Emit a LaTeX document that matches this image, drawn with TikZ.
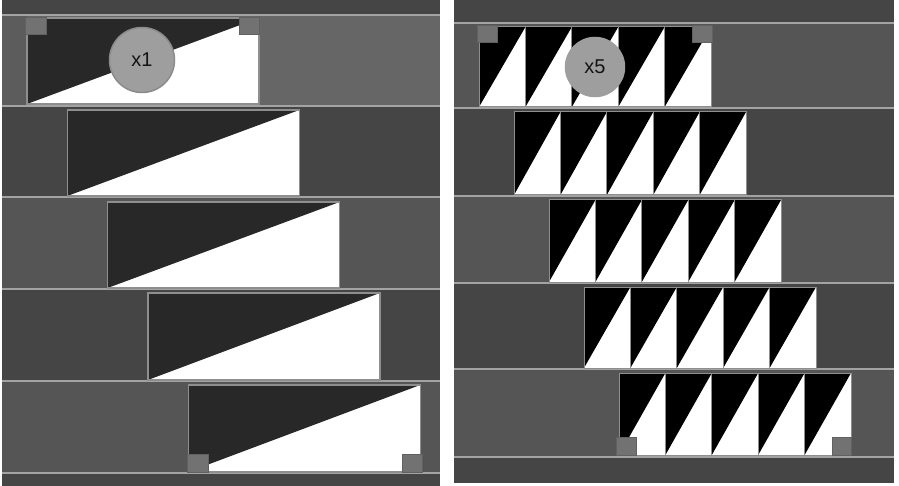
\documentclass[tikz,border=0pt]{standalone}
\usepackage{fontspec}
\setmainfont{Liberation Sans}

\definecolor{stripdark}{HTML}{454545}
\definecolor{rowlight}{HTML}{555555}
\definecolor{rowtop}{HTML}{666666}
\definecolor{rowtopleft}{HTML}{5C5C5C}
\definecolor{sepline}{HTML}{A3A3A3}
\definecolor{imgdark}{HTML}{282828}
\definecolor{handle}{HTML}{727272}
\definecolor{badgegray}{HTML}{9E9E9E}
\definecolor{frameline}{HTML}{8E8E8E}

\begin{document}
\begin{tikzpicture}[x=1pt, y=-1pt,
  sep/.style={sepline, line width=1.6pt},
  frame/.style={frameline, line width=1.2pt},
  handlebox/.style={fill=handle, draw=handle!85!black, line width=0.8pt},
  countbadge/.style={circle, fill=badgegray, draw=badgegray!88!black, line width=1.5pt,
    inner sep=0pt, text=black!92, font=\fontsize{20}{22}\selectfont}]

\useasboundingbox (0,0) rectangle (899,486);

% Left panel - one stretched copy per row
\fill[stripdark] (2,0) rectangle (440,486);
\fill[rowtopleft] (2,15) rectangle (27,106);
\fill[rowtop] (27,15) rectangle (440,106);
\foreach \top/\bot in {197/289, 381/473}
  \fill[rowlight] (2,\top) rectangle (440,\bot);
\foreach \y in {15,106,197,289,381,473}
  \draw[sep] (2,\y) -- (440,\y);

\foreach \i/\top/\bot in {0/18/104, 1/110/196, 2/202/288, 3/293/380, 4/385/472} {
  \pgfmathsetmacro{\xa}{27+40.3*\i}
  \pgfmathsetmacro{\xb}{\xa+232}
  \fill[white] (\xa,\top) rectangle (\xb,\bot);
  \fill[imgdark] (\xa,\bot) -- (\xa,\top) -- (\xb,\top) -- cycle;
  \draw[frame] (\xa,\top) rectangle (\xb,\bot);
}

% Left panel - handles
\draw[handlebox] (25,17) rectangle (46,34);
\draw[handlebox] (239,17) rectangle (259,34);
\draw[handlebox] (187,454) rectangle (208,472);
\draw[handlebox] (402,454) rectangle (422,472);

\node[countbadge, minimum size=65pt] (countone) at (142,60) {x1};

% Right panel - five tiles per row
\fill[stripdark] (454,0) rectangle (894,483);
\foreach \top/\bot in {23/108, 196/283, 369/457}
  \fill[rowlight] (454,\top) rectangle (894,\bot);
\foreach \y in {23,108,196,283,369,457}
  \draw[sep] (454,\y) -- (894,\y);

\foreach \i/\top/\bot in {0/27/107, 1/112/195, 2/200/282, 3/287/368, 4/373/455} {
  \foreach \c in {0,...,4} {
    \pgfmathsetmacro{\xa}{479+35*\i+46.4*\c}
    \pgfmathsetmacro{\xb}{\xa+46.4}
    \fill[white] (\xa,\top) rectangle (\xb,\bot);
    \fill[black] (\xa,\bot) -- (\xa,\top) -- (\xb,\top) -- cycle;
    \draw[frame, line width=1pt] (\xa,\top) rectangle (\xb,\bot);
  }
}

% Right panel - handles
\draw[handlebox] (477,25) rectangle (497,42);
\draw[handlebox] (692,25) rectangle (712,42);
\draw[handlebox] (616,437) rectangle (636,455);
\draw[handlebox] (832,437) rectangle (851,455);

\node[countbadge, minimum size=59pt, draw=badgegray] (countfive) at (595,67) {x5};

\end{tikzpicture}
\end{document}
